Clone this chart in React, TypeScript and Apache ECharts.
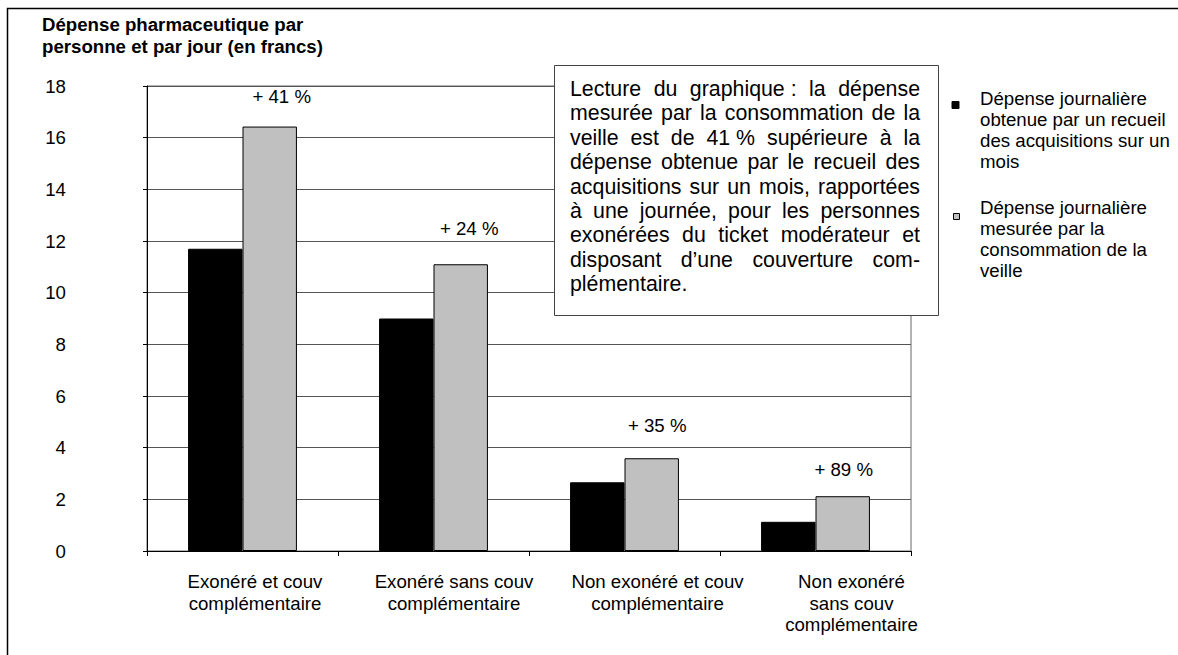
import React, { useEffect, useRef } from "react";
import * as echarts from "echarts";

const categories = [
  "Exonéré et couv\ncomplémentaire",
  "Exonéré sans couv\ncomplémentaire",
  "Non exonéré et couv\ncomplémentaire",
  "Non exonéré\nsans couv\ncomplémentaire",
];
const categoryLabelShift = [12.5, 20.5, 33, 36];
const acquisitions = [11.7, 9.0, 2.66, 1.13];
const veille = [16.43, 11.1, 3.59, 2.12];
const ecarts = ["+ 41 %", "+ 24 %", "+ 35 %", "+ 89 %"];
const ecartOffsets = [
  [12, -20.5],
  [8.5, -26.5],
  [5.5, -23.5],
  [1, -17.5],
];
const seriesNames = [
  "Dépense journalière\nobtenue par un recueil\ndes acquisitions sur un\nmois",
  "Dépense journalière\nmesurée par la\nconsommation de la\nveille",
];
const yTitle = "Dépense pharmaceutique par\npersonne et par jour (en francs)";
const noteLines = [
  "Lecture du graphique\u00a0: la dépense",
  "mesurée par la consommation de la",
  "veille est de 41\u00a0% supérieure à la",
  "dépense obtenue par le recueil des",
  "acquisitions sur un mois, rapportées",
  "à une journée, pour les personnes",
  "exonérées du ticket modérateur et",
  "disposant d’une couverture com-",
  "plémentaire.",
];

const FONT = "Liberation Sans, Arial, sans-serif";
const FS = 18.67;
const NOTE_FS = 21.33;

function justifiedNote(left: number, right: number, firstY: number, lh: number) {
  const canvas = document.createElement("canvas");
  const ctx = canvas.getContext("2d")!;
  ctx.font = `${NOTE_FS}px "Liberation Sans"`;
  const space = ctx.measureText(" ").width;
  const els: any[] = [];
  noteLines.forEach((line, li) => {
    const words = line.split(" ");
    const widths = words.map((w) => ctx.measureText(w).width);
    const total = widths.reduce((a, b) => a + b, 0);
    const last = li === noteLines.length - 1;
    const gap = last || words.length < 2 ? space : (right - left - total) / (words.length - 1);
    let x = left;
    words.forEach((w, wi) => {
      els.push({
        type: "text",
        z: 101,
        style: {
          text: w.replace(/\u00a0/g, " "),
          x,
          y: firstY + li * lh,
          fontSize: NOTE_FS,
          fontFamily: FONT,
          fill: "#000",
          align: "left",
          verticalAlign: "middle",
          textAlign: "left",
          textVerticalAlign: "middle",
        },
      });
      x += widths[wi] + gap;
    });
  });
  return els;
}

export default function App() {
  const ref = useRef<HTMLDivElement>(null);
  useEffect(() => {
    document.body.style.margin = "0";
    const chart = echarts.init(ref.current!, null, { renderer: "svg" });
    const option: any = {
      animation: false,
      backgroundColor: "#fff",
      textStyle: { fontFamily: FONT },
      grid: {
        left: 147,
        right: 267,
        top: 86,
        bottom: 104,
        show: true,
        borderColor: "#666",
        borderWidth: 1,
      },
      xAxis: {
        type: "category",
        data: categories.map((c, i) => ({
          value: c,
          textStyle: { padding: [0, 0, 0, 2 * categoryLabelShift[i]] },
        })),
        axisLine: { lineStyle: { color: "#000", width: 1 } },
        axisTick: { show: true, length: 5, interval: 0, alignWithLabel: false, lineStyle: { color: "#000" } },
        axisLabel: {
          interval: 0,
          margin: 20,
          fontSize: FS,
          lineHeight: 21.5,
          color: "#000",
          fontFamily: FONT,
        },
      },
      yAxis: {
        type: "value",
        min: 0,
        max: 18,
        interval: 2,
        axisLine: { show: true, lineStyle: { color: "#000", width: 1 } },
        axisTick: { show: true, length: 4, lineStyle: { color: "#000" } },
        splitLine: { show: true, lineStyle: { color: "#555", width: 1 } },
        axisLabel: {
          margin: 81,
          fontSize: FS,
          color: "#000",
          fontFamily: FONT,
          padding: [6, 0, 0, 0],
        },
      },
      series: [
        {
          name: seriesNames[0],
          type: "bar",
          data: acquisitions,
          barGap: "0%",
          barCategoryGap: "43%",
          itemStyle: { color: "#000", borderColor: "#000", borderWidth: 1 },
        },
        {
          name: seriesNames[1],
          type: "bar",
          data: veille.map((v, i) => ({ value: v, label: { offset: ecartOffsets[i] } })),
          barGap: "0%",
          barCategoryGap: "43%",
          itemStyle: { color: "#c0c0c0", borderColor: "#000", borderWidth: 1 },
          label: {
            show: true,
            position: "top",
            distance: 0,
            formatter: (p: any) => ecarts[p.dataIndex],
            fontSize: FS,
            color: "#000",
            fontFamily: FONT,
          },
        },
      ],
      graphic: [
        {
          type: "rect",
          z: 0,
          shape: { x: 7.5, y: 8.5, width: 1400, height: 1000 },
          style: { fill: "none", stroke: "#000", lineWidth: 1.5 },
          silent: true,
        },
        {
          type: "text",
          style: {
            text: yTitle,
            x: 42,
            y: 13,
            fontSize: FS,
            fontWeight: "bold",
            fontFamily: FONT,
            lineHeight: 22.5,
            fill: "#000",
            verticalAlign: "top",
            textVerticalAlign: "top",
          },
        },
        {
          type: "rect",
          z: 100,
          shape: { x: 554.5, y: 65.5, width: 384, height: 250 },
          style: { fill: "#fff", stroke: "#444", lineWidth: 1 },
        },
        ...justifiedNote(570, 920, 89, 24.4),
        {
          type: "rect",
          shape: { x: 952, y: 101.5, width: 7, height: 7 },
          style: { fill: "#000", stroke: "#000", lineWidth: 1 },
        },
        {
          type: "text",
          style: {
            text: seriesNames[0],
            x: 980,
            y: 87.5,
            fontSize: FS,
            fontFamily: FONT,
            lineHeight: 21,
            fill: "#000",
            verticalAlign: "top",
            textVerticalAlign: "top",
          },
        },
        {
          type: "rect",
          shape: { x: 953.5, y: 213.5, width: 6, height: 6 },
          style: { fill: "#c0c0c0", stroke: "#000", lineWidth: 1 },
        },
        {
          type: "text",
          style: {
            text: seriesNames[1],
            x: 980,
            y: 196.5,
            fontSize: FS,
            fontFamily: FONT,
            lineHeight: 21,
            fill: "#000",
            verticalAlign: "top",
            textVerticalAlign: "top",
          },
        },
      ],
    };
    chart.setOption(option);
    return () => chart.dispose();
  }, []);
  return <div ref={ref} style={{ width: 1178, height: 655 }} />;
}
